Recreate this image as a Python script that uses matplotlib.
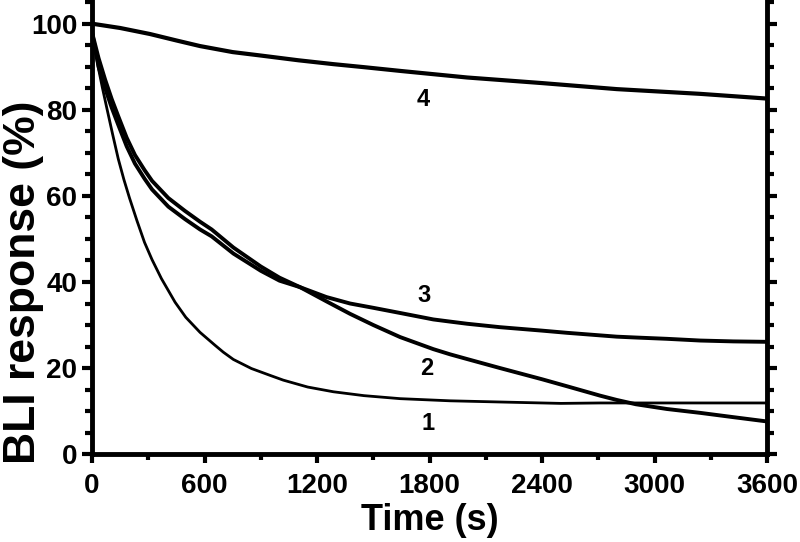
import matplotlib
matplotlib.use('Agg')
import matplotlib.pyplot as plt
from matplotlib.ticker import MultipleLocator

# BLI dissociation curves
t1 = [0, 15, 35, 55, 80, 110, 140, 170, 200, 240, 280, 320, 370, 443, 500, 576,
      656, 700, 754, 850, 950, 1020, 1150, 1287, 1450, 1643, 1909, 2200, 2500,
      2709, 3000, 3300, 3600]
v1 = [98, 94.5, 89.5, 85.2, 80.2, 74.3, 68.6, 63.8, 59.5, 54.2, 49.2, 45.2, 40.8,
      35.3, 31.8, 28.3, 25.3, 23.7, 22.0, 19.9, 18.3, 17.2, 15.6, 14.5, 13.6,
      12.9, 12.4, 12.1, 11.8, 11.9, 11.9, 11.9, 11.9]

t23 = [0, 35, 70, 105, 140, 185, 229, 280, 320, 407, 496, 576, 638, 754, 900,
       1000, 1109, 1250, 1376, 1500, 1643, 1820, 1909, 2000, 2176, 2400, 2531,
       2709, 2798, 2900, 3065, 3243, 3420, 3600]
v2 = [98, 92, 87, 82.5, 78.5, 73.5, 69.5, 66.0, 63.5, 59.5, 56.5, 54.0, 52.2,
      48.0, 43.6, 41.0, 38.8, 35.5, 32.6, 30.0, 27.2, 24.4, 23.2, 22.1, 20.0,
      17.4, 15.8, 13.6, 12.6, 11.6, 10.5, 9.6, 8.6, 7.6]
v3 = [98, 90, 85, 80.5, 76.5, 71.5, 67.5, 64.0, 61.5, 57.5, 54.6, 52.2, 50.6,
      46.6, 42.6, 40.3, 38.8, 36.5, 35.0, 34.0, 32.8, 31.3, 30.8, 30.3, 29.5,
      28.7, 28.2, 27.6, 27.3, 27.1, 26.8, 26.4, 26.2, 26.1]

t4 = [0, 150, 309, 450, 576, 750, 900, 1100, 1287, 1450, 1650, 2000, 2400, 2798,
      3243, 3600]
v4 = [100, 99.0, 97.6, 96.1, 94.8, 93.4, 92.6, 91.5, 90.6, 89.9, 89.0, 87.5,
      86.2, 84.8, 83.7, 82.6]

labels = ['1', '2', '3', '4']
label_t = [1790, 1785, 1770, 1765]
label_v = [7.1, 19.9, 36.8, 82.4]

plt.rcParams['font.family'] = ['Liberation Sans', 'DejaVu Sans']
plt.rcParams['font.weight'] = 'bold'

fig = plt.figure(figsize=(8, 5.42), dpi=100)
ax = fig.add_axes([0.115, 0.162, 0.844, 0.838])

ax.plot(t1, v1, color='black', lw=2.0)
ax.plot(t23, v2, color='black', lw=2.8)
ax.plot(t23, v3, color='black', lw=2.8)
ax.plot(t4, v4, color='black', lw=3.0)

for lab, tx, vy in zip(labels, label_t, label_v):
    ax.text(tx, vy, lab, ha='center', va='center', fontsize=17, fontweight='bold')

ax.set_xlim(0, 3600)
ax.set_ylim(0, 105.5)
ax.xaxis.set_major_locator(MultipleLocator(600))
ax.xaxis.set_minor_locator(MultipleLocator(300))
ax.yaxis.set_major_locator(MultipleLocator(20))
ax.yaxis.set_minor_locator(MultipleLocator(5))

ax.spines['top'].set_visible(False)
for s in ['left', 'right', 'bottom']:
    ax.spines[s].set_linewidth(3.5)

ax.tick_params(axis='y', which='major', direction='out', length=7.5, width=3,
               labelsize=20, pad=3, right=True)
ax.tick_params(axis='y', which='minor', direction='out', length=5.2, width=3,
               right=True)
ax.tick_params(axis='x', which='major', direction='out', length=6.5, width=3,
               labelsize=20, pad=7)
ax.tick_params(axis='x', which='minor', direction='out', length=4.5, width=3)
for lab in ax.get_xticklabels() + ax.get_yticklabels():
    lab.set_fontweight('bold')

ax.set_xlabel('Time (s)', fontsize=26, fontweight='bold', labelpad=3)
fig.text(3 / 800, 1 - 282 / 542, 'BLI response (%)', rotation=90, ha='left',
         va='center', fontsize=32, fontweight='bold')

fig.savefig('out.png', dpi=100)
